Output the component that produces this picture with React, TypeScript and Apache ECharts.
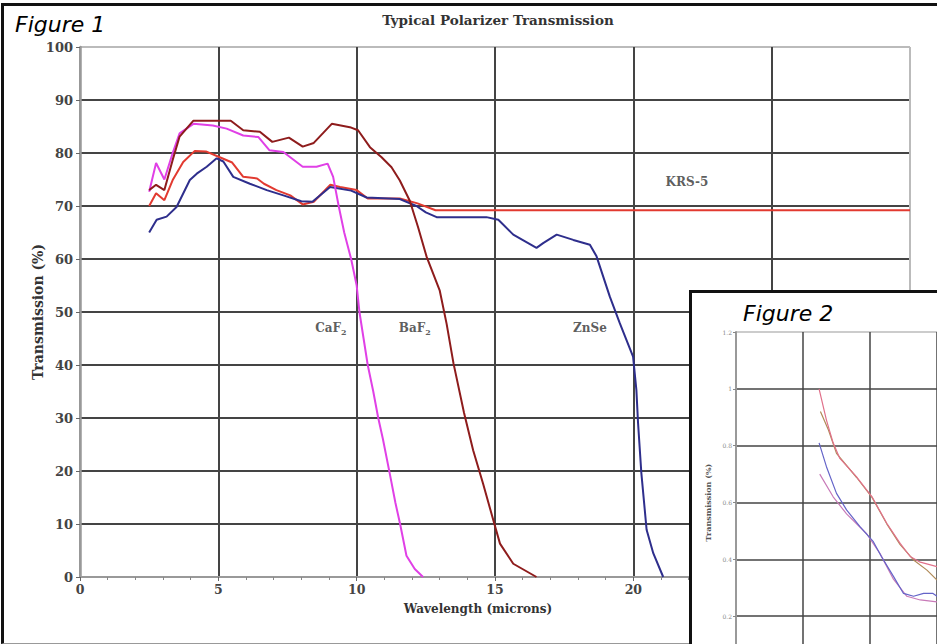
import React, { useEffect, useRef } from "react";
import * as echarts from "echarts";

// ---------- Figure 1 data (wavelength in microns, transmission in %) ----------
const CAF2: [number, number][] = [
  [2.5, 72.7], [2.75, 78.1], [3.05, 75], [3.35, 80], [3.6, 83.7], [4.1, 85.5], [4.8, 85.2],
  [5.3, 84.6], [5.9, 83.3], [6.45, 83.0], [6.85, 80.5], [7.35, 80.2], [8.05, 77.4], [8.55, 77.4],
  [8.95, 78.0], [9.15, 75.5], [9.35, 70], [9.55, 65], [9.8, 60], [10.0, 55], [10.1, 50],
  [10.25, 45], [10.4, 40], [10.6, 35], [10.78, 30], [10.95, 26], [11.2, 19.4], [11.4, 14],
  [11.57, 10], [11.8, 4], [12.1, 1.5], [12.4, 0],
];
const BAF2: [number, number][] = [
  [2.5, 73], [2.75, 74], [3.05, 73], [3.35, 78.7], [3.6, 83.1], [4.1, 86.1], [5.45, 86.1],
  [5.9, 84.3], [6.5, 84.0], [6.95, 82.1], [7.55, 82.9], [8.05, 81.2], [8.45, 81.9], [9.1, 85.5],
  [9.8, 84.8], [10.05, 84.3], [10.48, 81.1], [10.9, 79.2], [11.26, 77.3], [11.56, 74.8],
  [11.92, 71.0], [12.22, 66.0], [12.53, 60.4], [13.0, 54.1], [13.25, 47.8], [13.5, 40.3],
  [13.88, 31], [14.21, 23.9], [14.57, 17.6], [14.94, 10.7], [15.18, 6.3], [15.66, 2.5], [16.5, 0],
];
const KRS5: [number, number][] = [
  [2.5, 70], [2.75, 72.4], [3.05, 71.1], [3.35, 74.9], [3.73, 78.3], [4.15, 80.4], [4.55, 80.3],
  [5.05, 79.2], [5.5, 78.2], [5.9, 75.5], [6.4, 75.2], [6.65, 74.2], [7.1, 73.0], [7.6, 72.0],
  [8.05, 70.3], [8.45, 70.8], [9.05, 74], [9.4, 73.6], [10.0, 73.0], [10.4, 71.4], [11.56, 71.4],
  [12.2, 70.5], [12.85, 69.2], [30, 69.2],
];
const ZNSE: [number, number][] = [
  [2.5, 65], [2.77, 67.4], [3.13, 68.0], [3.49, 69.8], [3.97, 74.9], [4.22, 76.1], [4.58, 77.4],
  [4.94, 79.0], [5.18, 78.4], [5.54, 75.5], [6.14, 74.2], [6.75, 73.0], [7.35, 72.0], [8.0, 70.9],
  [8.4, 70.8], [9.04, 73.6], [9.8, 72.9], [10.36, 71.6], [11.56, 71.3], [12.16, 70], [12.5, 68.8],
  [12.89, 67.9], [14.69, 67.9], [15.12, 67.4], [15.66, 64.6], [16.5, 62.1], [16.74, 63.0],
  [17.23, 64.6], [17.83, 63.6], [18.43, 62.7], [18.67, 60.5], [19.15, 52.9], [19.51, 47.9],
  [19.99, 41.6], [20.11, 35.3], [20.17, 29.1], [20.29, 19.6], [20.48, 8.9], [20.72, 4.5], [21.08, 0],
];

// curve annotations: main text, subscript, anchor (wavelength, %)
const LABEL_MAIN = ["CaF", "BaF", "ZnSe", "KRS-5"];
const LABEL_SUB = ["2", "2", "", ""];
const LABEL_AT: [number, number][] = [[9.07, 47], [12.1, 47], [18.43, 47], [21.94, 74.5]];

// ---------- Figure 2 (inset) data ----------
const INSET_A: [number, number][] = [
  [1.24, 1.0], [1.35, 0.89], [1.45, 0.81], [1.55, 0.755], [1.8, 0.69], [2.03, 0.62], [2.25, 0.527],
  [2.45, 0.456], [2.6, 0.41], [2.75, 0.39], [3.0, 0.374],
];
const INSET_B: [number, number][] = [
  [1.26, 0.92], [1.38, 0.855], [1.5, 0.773], [1.8, 0.688], [2.03, 0.618], [2.25, 0.525],
  [2.45, 0.452], [2.65, 0.398], [2.85, 0.362], [3.0, 0.327],
];
const INSET_C: [number, number][] = [
  [1.24, 0.81], [1.35, 0.726], [1.5, 0.632], [1.65, 0.574], [1.85, 0.515], [2.05, 0.462],
  [2.17, 0.41], [2.35, 0.34], [2.5, 0.28], [2.65, 0.27], [2.8, 0.28], [2.94, 0.28], [3.0, 0.27],
];
const INSET_D: [number, number][] = [
  [1.25, 0.7], [1.45, 0.62], [1.65, 0.56], [1.95, 0.49], [2.15, 0.42], [2.35, 0.33], [2.55, 0.27],
  [2.75, 0.257], [3.0, 0.25],
];

const SERIF = "'DejaVu Serif', 'Liberation Serif', serif";
const SANS = "'DejaVu Sans', Verdana, sans-serif";
const GRID_DARK = "#444";

export default function App() {
  const mainRef = useRef<HTMLDivElement>(null);
  const insetRef = useRef<HTMLDivElement>(null);

  useEffect(() => {
    if (!mainRef.current || !insetRef.current) return;
    const main = echarts.init(mainRef.current, null, { renderer: "svg" });
    const inset = echarts.init(insetRef.current, null, { renderer: "svg" });

    const yColors = Array.from({ length: 11 }, (_, i) => (i === 0 ? "#999" : i === 10 ? "#bbb" : GRID_DARK));
    const xColors = Array.from({ length: 7 }, (_, i) => (i === 0 ? "#999" : i === 6 ? "#bbb" : GRID_DARK));

    const lineSeries = (name: string, data: [number, number][], color: string) => ({
      type: "line",
      name,
      data,
      showSymbol: false,
      symbol: "none",
      lineStyle: { color, width: 2 },
      z: 3,
    });

    main.setOption({
      animation: false,
      backgroundColor: "transparent",
      grid: { left: 80, right: 27, top: 47, bottom: 67 },
      graphic: [
        {
          type: "text",
          left: 15,
          top: 13,
          style: { text: "Figure 1", fontFamily: SANS, fontStyle: "italic", fontSize: 22, fill: "#000" },
        },
        {
          type: "text",
          x: 498,
          y: 20,
          style: {
            text: "Typical Polarizer Transmission",
            fontFamily: SERIF,
            fontWeight: "bold",
            fontSize: 13.5,
            fill: "#333",
            textAlign: "center",
            textVerticalAlign: "middle",
          },
        },
      ],
      xAxis: {
        type: "value",
        min: 0,
        max: 30,
        interval: 5,
        name: "Wavelength (microns)",
        nameLocation: "middle",
        nameGap: 26,
        nameTextStyle: { fontFamily: SERIF, fontWeight: "bold", fontSize: 12, color: "#333", padding: [0, 34, 0, 0] },
        axisLine: { show: true, onZero: false, lineStyle: { color: "#999", width: 2 } },
        axisTick: { show: true, length: 4, lineStyle: { color: "#666" } },
        minorTick: { show: true, splitNumber: 5, length: 3, lineStyle: { color: "#888" } },
        axisLabel: { fontFamily: SERIF, fontWeight: "bold", fontSize: 12.5, color: "#444", margin: 6 },
        splitLine: { show: true, lineStyle: { color: xColors, width: 2 } },
      },
      yAxis: {
        type: "value",
        min: 0,
        max: 100,
        interval: 10,
        name: "Transmission (%)",
        nameLocation: "middle",
        nameGap: 35,
        nameMoveOverlap: false,
        nameTextStyle: { fontFamily: SERIF, fontWeight: "bold", fontSize: 14, color: "#333" },
        axisLine: { show: true, lineStyle: { color: "#999", width: 2.5 } },
        axisTick: { show: true, length: 4, lineStyle: { color: "#666" } },
        axisLabel: { fontFamily: SERIF, fontWeight: "bold", fontSize: 13, color: "#444", margin: 7 },
        splitLine: { show: true, lineStyle: { color: yColors, width: 2 } },
      },
      series: [
        lineSeries("KRS-5", KRS5, "#e23a30"),
        lineSeries("ZnSe", ZNSE, "#2e2e8c"),
        lineSeries("CaF2", CAF2, "#e040e6"),
        lineSeries("BaF2", BAF2, "#8e1c1c"),
        {
          type: "scatter",
          name: "labels",
          silent: true,
          symbolSize: 0,
          z: 5,
          data: LABEL_AT.map((p, i) => ({ value: p, main: LABEL_MAIN[i], sub: LABEL_SUB[i] })),
          label: {
            show: true,
            position: "inside",
            formatter: (p: any) =>
              p.data.sub ? `{a|${p.data.main}}{s|${p.data.sub}}` : `{a|${p.data.main}}`,
            rich: {
              a: { fontFamily: SERIF, fontWeight: "bold", fontSize: 12, color: "#333", lineHeight: 16, verticalAlign: "middle" },
              s: { fontFamily: SERIF, fontWeight: "bold", fontSize: 8, color: "#333", lineHeight: 8, verticalAlign: "bottom" },
            },
          },
        },
      ],
    });

    const insetY = Array.from({ length: 7 }, (_, i) => (i === 6 ? "#bbb" : GRID_DARK));
    const thin = (data: [number, number][], color: string) => ({
      type: "line",
      data,
      showSymbol: false,
      symbol: "none",
      lineStyle: { color, width: 1.2 },
    });

    inset.setOption({
      animation: false,
      grid: { left: 44, top: 39, width: 201, height: 341 },
      graphic: [
        {
          type: "text",
          left: 51,
          top: 9,
          style: { text: "Figure 2", fontFamily: SANS, fontStyle: "italic", fontSize: 22, fill: "#000" },
        },
      ],
      xAxis: {
        type: "value",
        min: 0,
        max: 3,
        interval: 1,
        axisLine: { show: false },
        axisTick: { show: false },
        axisLabel: { show: false },
        splitLine: { show: true, lineStyle: { color: ["#999", GRID_DARK, GRID_DARK, GRID_DARK], width: 1.5 } },
      },
      yAxis: {
        type: "value",
        min: 0,
        max: 1.2,
        interval: 0.2,
        name: "Transmission (%)",
        nameLocation: "middle",
        nameGap: 22,
        nameTextStyle: { fontFamily: SERIF, fontWeight: "bold", fontSize: 8, color: "#555" },
        axisLine: { show: true, lineStyle: { color: "#999", width: 2 } },
        axisTick: { show: true, length: 3, lineStyle: { color: "#888" } },
        axisLabel: { fontFamily: SERIF, fontSize: 6, color: "#888", margin: 4, showMinLabel: false },
        splitLine: { show: true, lineStyle: { color: insetY, width: 1.5 } },
      },
      series: [
        thin(INSET_B, "#b08a58"),
        thin(INSET_A, "#e0708a"),
        thin(INSET_D, "#c87ab8"),
        thin(INSET_C, "#6464c8"),
      ],
    });

    return () => {
      main.dispose();
      inset.dispose();
    };
  }, []);

  return (
    <div style={{ position: "absolute", left: 0, top: 0, width: 937, height: 644, background: "#fff", overflow: "hidden" }}>
      <div ref={mainRef} style={{ position: "absolute", left: 0, top: 0, width: 937, height: 644 }} />
      <div
        style={{
          position: "absolute",
          left: 1,
          top: 3,
          width: 936,
          height: 641,
          boxSizing: "border-box",
          borderTop: "3px solid #111",
          borderLeft: "3px solid #111",
          borderBottom: "1px solid #999",
          pointerEvents: "none",
        }}
      />
      <div
        style={{
          position: "absolute",
          left: 689,
          top: 290,
          width: 248,
          height: 354,
          boxSizing: "border-box",
          borderTop: "3px solid #111",
          borderLeft: "3px solid #111",
          background: "#fff",
          overflow: "hidden",
        }}
      >
        <div ref={insetRef} style={{ position: "absolute", left: 0, top: 0, width: 245, height: 420 }} />
      </div>
    </div>
  );
}
